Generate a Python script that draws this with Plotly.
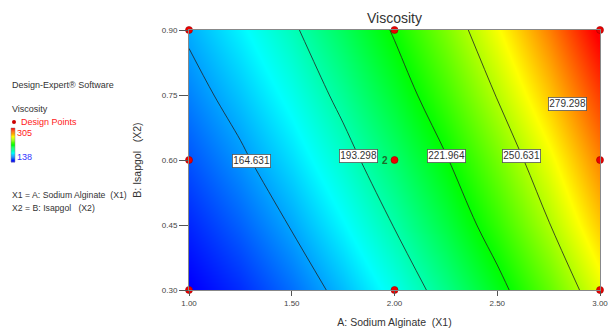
import numpy as np
import plotly.graph_objects as go
from plotly.colors import sample_colorscale

# ---- data ----
A_vals = [1.00, 1.25, 1.50, 1.75, 2.00, 2.25, 2.50, 2.75, 3.00]   # A: Sodium Alginate (X1)
B_vals = [0.30, 0.45, 0.60, 0.75, 0.90]                             # B: Isapgol (X2)
visc_B030 = [136.9, 145.1, 156.1, 168.8, 183.3, 199.4, 217.3, 237.4, 259.4]
visc_B045 = [144.1, 153.9, 165.5, 178.9, 193.9, 210.7, 229.4, 249.9, 272.1]
visc_B060 = [151.8, 162.2, 174.3, 188.1, 203.6, 220.9, 240.0, 260.6, 283.5]
visc_B075 = [159.4, 170.2, 182.7, 197.2, 213.9, 231.9, 251.4, 272.5, 295.3]
visc_B090 = [166.7, 178.0, 191.0, 206.4, 223.5, 241.8, 262.0, 284.0, 307.8]
contour_levels = [164.631, 193.298, 221.964, 250.631, 279.298]
label_B = [0.597, 0.61, 0.61, 0.61, 0.73]
design_A = [1, 1, 1, 2, 2, 2, 3, 3, 3]
design_B = [0.30, 0.60, 0.90, 0.30, 0.60, 0.90, 0.30, 0.60, 0.90]
color_min, color_max = 138, 305
x_ticks = [1.00, 1.50, 2.00, 2.50, 3.00]
y_ticks = [0.30, 0.45, 0.60, 0.75, 0.90]

Z = np.array([visc_B030, visc_B045, visc_B060, visc_B075, visc_B090])

FONT = "Liberation Sans, Arial, sans-serif"
W, H = 610, 333
L, R, T, B = 189, 10, 30, 43
PW, PH = W - L - R, H - T - B

def px(x):
    return (x - L) / PW

def py(y):
    return (H - B - y) / PH

rainbow = [[0.0, "rgb(0,0,255)"], [0.25, "rgb(0,255,255)"], [0.5, "rgb(0,255,0)"],
           [0.75, "rgb(255,255,0)"], [1.0, "rgb(255,0,0)"]]

fig = go.Figure()
fig.add_trace(go.Contour(
    x=A_vals, y=B_vals, z=Z,
    colorscale=rainbow, zmin=color_min, zmax=color_max,
    contours=dict(start=contour_levels[0], end=contour_levels[-1],
                  size=contour_levels[1] - contour_levels[0], coloring="heatmap",
                  showlabels=False),
    line=dict(color="#222222", width=0.8),
    showscale=False,
    hoverinfo="skip",
))

fig.add_trace(go.Scatter(
    x=design_A, y=design_B, mode="markers",
    marker=dict(symbol="circle", size=7, color="#ee0000", line=dict(color="#990000", width=0.6)),
    cliponaxis=False, showlegend=False, hoverinfo="skip",
))

annotations = []
for lev, lb in zip(contour_levels, label_B):
    row = np.array([np.interp(lb, B_vals, Z[:, j]) for j in range(len(A_vals))])
    a_at = float(np.interp(lev, row, A_vals))
    annotations.append(dict(x=a_at, y=lb, xref="x", yref="y", text=f"{lev:.3f}",
                            showarrow=False, bgcolor="white", bordercolor="#555",
                            borderwidth=0.8, borderpad=0.5,
                            font=dict(family=FONT, size=10, color="#333")))
annotations.append(dict(x=2.0, y=0.6, xref="x", yref="y", text="<b>2</b>", showarrow=False,
                        xshift=-10, font=dict(family=FONT, size=10, color="#1d6b2a")))

def txt(x, y, s, color="#333", size=9):
    annotations.append(dict(x=px(x), y=py(y), xref="paper", yref="paper", text=s,
                            showarrow=False, xanchor="left", yanchor="middle",
                            font=dict(family=FONT, size=size, color=color)))

txt(10, 85, "Design-Expert® Software")
txt(10, 109, "Viscosity")
txt(19, 122, "Design Points", color="#ff2020")
txt(15, 133, "305", color="#ff2020")
txt(15, 157, "138", color="#3333ff")
txt(10, 195, "X1 = A: Sodium Alginate  (X1)", size=8.7)
txt(10, 208, "X2 = B: Isapgol   (X2)", size=8.7)

shapes = []
n_steps = 30
cb_top, cb_bot, cb_l, cb_r = 128, 162, 11, 15
cols = sample_colorscale(rainbow, list(np.linspace(1, 0, n_steps)))
step = (cb_bot - cb_top) / n_steps
for i, c in enumerate(cols):
    shapes.append(dict(type="rect", xref="paper", yref="paper",
                       x0=px(cb_l), x1=px(cb_r), y0=py(cb_top + i * step), y1=py(cb_top + (i + 1) * step + 0.3),
                       fillcolor=c, line=dict(width=0), layer="above"))
shapes.append(dict(type="rect", xref="paper", yref="paper", x0=px(cb_l), x1=px(cb_r),
                   y0=py(cb_top), y1=py(cb_bot), line=dict(color="#888", width=0.5), layer="above"))
shapes.append(dict(type="circle", xref="paper", yref="paper", x0=px(12), x1=px(16),
                   y0=py(124), y1=py(120), fillcolor="#cc0000", line=dict(width=0), layer="above"))

fig.update_layout(
    width=W, height=H,
    margin=dict(l=L, r=R, t=T, b=B, autoexpand=False),
    paper_bgcolor="white", plot_bgcolor="white",
    showlegend=False,
    title=dict(text="Viscosity", x=0.5, xref="paper", y=1 - 18 / H, yref="container",
               xanchor="center", yanchor="middle",
               font=dict(family=FONT, size=14, color="#333")),
    xaxis=dict(range=[1, 3], tickvals=x_ticks, ticktext=[f"{v:.2f}" for v in x_ticks],
               ticks="outside", ticklen=5, tickcolor="#555", showgrid=False, zeroline=False,
               showline=True, linecolor="#888", mirror=True,
               tickfont=dict(family=FONT, size=8, color="#444"),
               title=dict(text="A: Sodium Alginate  (X1)", standoff=12,
                          font=dict(family=FONT, size=10.5, color="#333"))),
    yaxis=dict(range=[0.3, 0.9], tickvals=y_ticks, ticktext=[f"{v:.2f}" for v in y_ticks],
               ticks="outside", ticklen=9, tickcolor="#555", showgrid=False, zeroline=False,
               showline=True, linecolor="#888", mirror=True,
               tickfont=dict(family=FONT, size=8, color="#444"),
               title=dict(text="B: Isapgol   (X2)", standoff=18,
                          font=dict(family=FONT, size=10.5, color="#333"))),
    annotations=annotations,
    shapes=shapes,
)

fig.write_html("out.html", config={"displayModeBar": False},
               post_script="document.body.style.margin='0px';document.body.style.padding='0px';")
